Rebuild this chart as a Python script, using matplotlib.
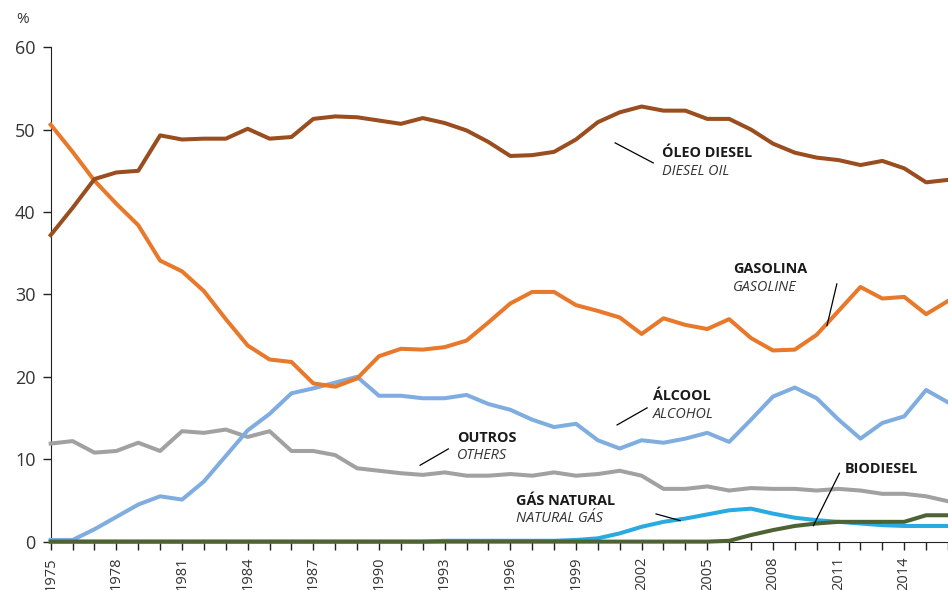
import matplotlib.pyplot as plt
import numpy as np

years = np.arange(1975, 2017)

diesel = [37.2, 40.5, 44.0, 44.8, 45.0, 49.3, 48.8, 48.9, 48.9, 50.1,
          48.9, 49.1, 51.3, 51.6, 51.5, 51.1, 50.7, 51.4, 50.8, 49.9,
          48.5, 46.8, 46.9, 47.3, 48.8, 50.9, 52.1, 52.8, 52.3, 52.3,
          51.3, 51.3, 50.0, 48.3, 47.2, 46.6, 46.3, 45.7, 46.2, 45.3,
          43.6, 43.9]
gasoline = [50.6, 47.3, 43.8, 41.0, 38.4, 34.1, 32.8, 30.4, 27.0, 23.8,
            22.1, 21.8, 19.2, 18.8, 19.8, 22.5, 23.4, 23.3, 23.6, 24.4,
            26.6, 28.9, 30.3, 30.3, 28.7, 28.0, 27.2, 25.2, 27.1, 26.3,
            25.8, 27.0, 24.7, 23.2, 23.3, 25.1, 28.0, 30.9, 29.5, 29.7,
            27.6, 29.2]
alcohol = [0.2, 0.2, 1.5, 3.0, 4.5, 5.5, 5.1, 7.3, 10.4, 13.5,
           15.5, 18.0, 18.6, 19.3, 20.0, 17.7, 17.7, 17.4, 17.4, 17.8,
           16.7, 16.0, 14.8, 13.9, 14.3, 12.3, 11.3, 12.3, 12.0, 12.5,
           13.2, 12.1, 14.8, 17.6, 18.7, 17.4, 14.8, 12.5, 14.4, 15.2,
           18.4, 16.9]
others = [11.9, 12.2, 10.8, 11.0, 12.0, 11.0, 13.4, 13.2, 13.6, 12.7,
          13.4, 11.0, 11.0, 10.5, 8.9, 8.6, 8.3, 8.1, 8.4, 8.0,
          8.0, 8.2, 8.0, 8.4, 8.0, 8.2, 8.6, 8.0, 6.4, 6.4,
          6.7, 6.2, 6.5, 6.4, 6.4, 6.2, 6.4, 6.2, 5.8, 5.8,
          5.5, 4.9]
natgas = [0.0] * 18 + [0.1, 0.1, 0.1, 0.1, 0.1, 0.1, 0.2, 0.4, 1.0, 1.8,
                       2.4, 2.8, 3.3, 3.8, 4.0, 3.4, 2.9, 2.6, 2.4, 2.2,
                       2.0, 1.9, 1.9, 1.9]
biodiesel = [0.0] * 31 + [0.1, 0.8, 1.4, 1.9, 2.2, 2.4, 2.4, 2.4, 2.4, 3.2, 3.2]

# colours
c_diesel = '#9a4d1f'
c_gas = '#e8782a'
c_alc = '#7fade0'
c_oth = '#a0a1a0'
c_ng = '#29abe2'
c_bio = '#4d6333'

plt.rcParams['font.family'] = ['Open Sans', 'DejaVu Sans']

fig = plt.figure(figsize=(9.48, 5.9), dpi=100)
ax = fig.add_axes([0.0535, 0.082, 0.9465, 0.838])

lw = 2.9
ax.plot(years, others, color=c_oth, lw=lw, clip_on=False, zorder=3)
ax.plot(years, alcohol, color=c_alc, lw=lw, clip_on=False, zorder=4)
ax.plot(years, gasoline, color=c_gas, lw=lw, clip_on=False, zorder=5)
ax.plot(years, diesel, color=c_diesel, lw=lw, clip_on=False, zorder=6)
ax.plot(years, natgas, color=c_ng, lw=lw, clip_on=False, zorder=7)
ax.plot(years, biodiesel, color=c_bio, lw=lw, clip_on=False, zorder=8)

ax.set_xlim(1975, 2016)
ax.set_ylim(0, 60)
ax.set_yticks([0, 10, 20, 30, 40, 50, 60])
ax.set_xticks(np.arange(1975, 2016, 3))
ax.set_xticks(years, minor=True)
ax.tick_params(axis='x', which='both', direction='out', length=6, width=1,
               color='#222222', rotation=90, labelsize=10.5, labelcolor='#333333', pad=5)
ax.tick_params(axis='y', direction='out', length=6, width=1, color='#222222',
               labelsize=13, labelcolor='#333333', pad=5)
for s in ['top', 'right']:
    ax.spines[s].set_visible(False)
ax.spines['left'].set_color('#222222')
ax.spines['bottom'].set_color('#222222')

fig.text(0.017, 0.967, '%', fontsize=11, color='#333333', va='center')

# labels: (bold text, italic text, x, y_bold, y_italic, leader start, leader end)
labels = [
    ('ÓLEO DIESEL', 'DIESEL OIL', 2002.92, 47.17, 44.86, (2000.79, 48.39), (2002.53, 45.96)),
    ('GASOLINA', 'GASOLINE', 2006.18, 33.09, 30.78, (2010.92, 31.27), (2010.47, 26.21)),
    ('ÁLCOOL', 'ALCOHOL', 2002.53, 17.72, 15.38, (2002.25, 16.23), (2000.88, 14.16)),
    ('OUTROS', 'OTHERS', 1993.56, 12.55, 10.40, (1993.17, 11.25), (1991.88, 9.27)),
    ('GÁS NATURAL', 'NATURAL GÁS', 1996.25, 4.98, 2.84, (2002.66, 3.36), (2003.76, 2.55)),
    ('BIODIESEL', None, 2011.29, 8.79, None, (2011.04, 8.30), (2009.85, 1.94)),
]
for bold, ital, x, yb, yi, p0, p1 in labels:
    ax.text(x, yb, bold, fontsize=10.4, fontweight='bold', color='#1a1a1a',
            va='center', ha='left', zorder=10)
    if ital:
        ax.text(x, yi, ital, fontsize=10.4, fontstyle='italic', color='#333333',
                va='center', ha='left', zorder=10)
    ax.plot([p0[0], p1[0]], [p0[1], p1[1]], color='black', lw=0.9, zorder=10,
            clip_on=False)

fig.savefig('out.png', dpi=100)
